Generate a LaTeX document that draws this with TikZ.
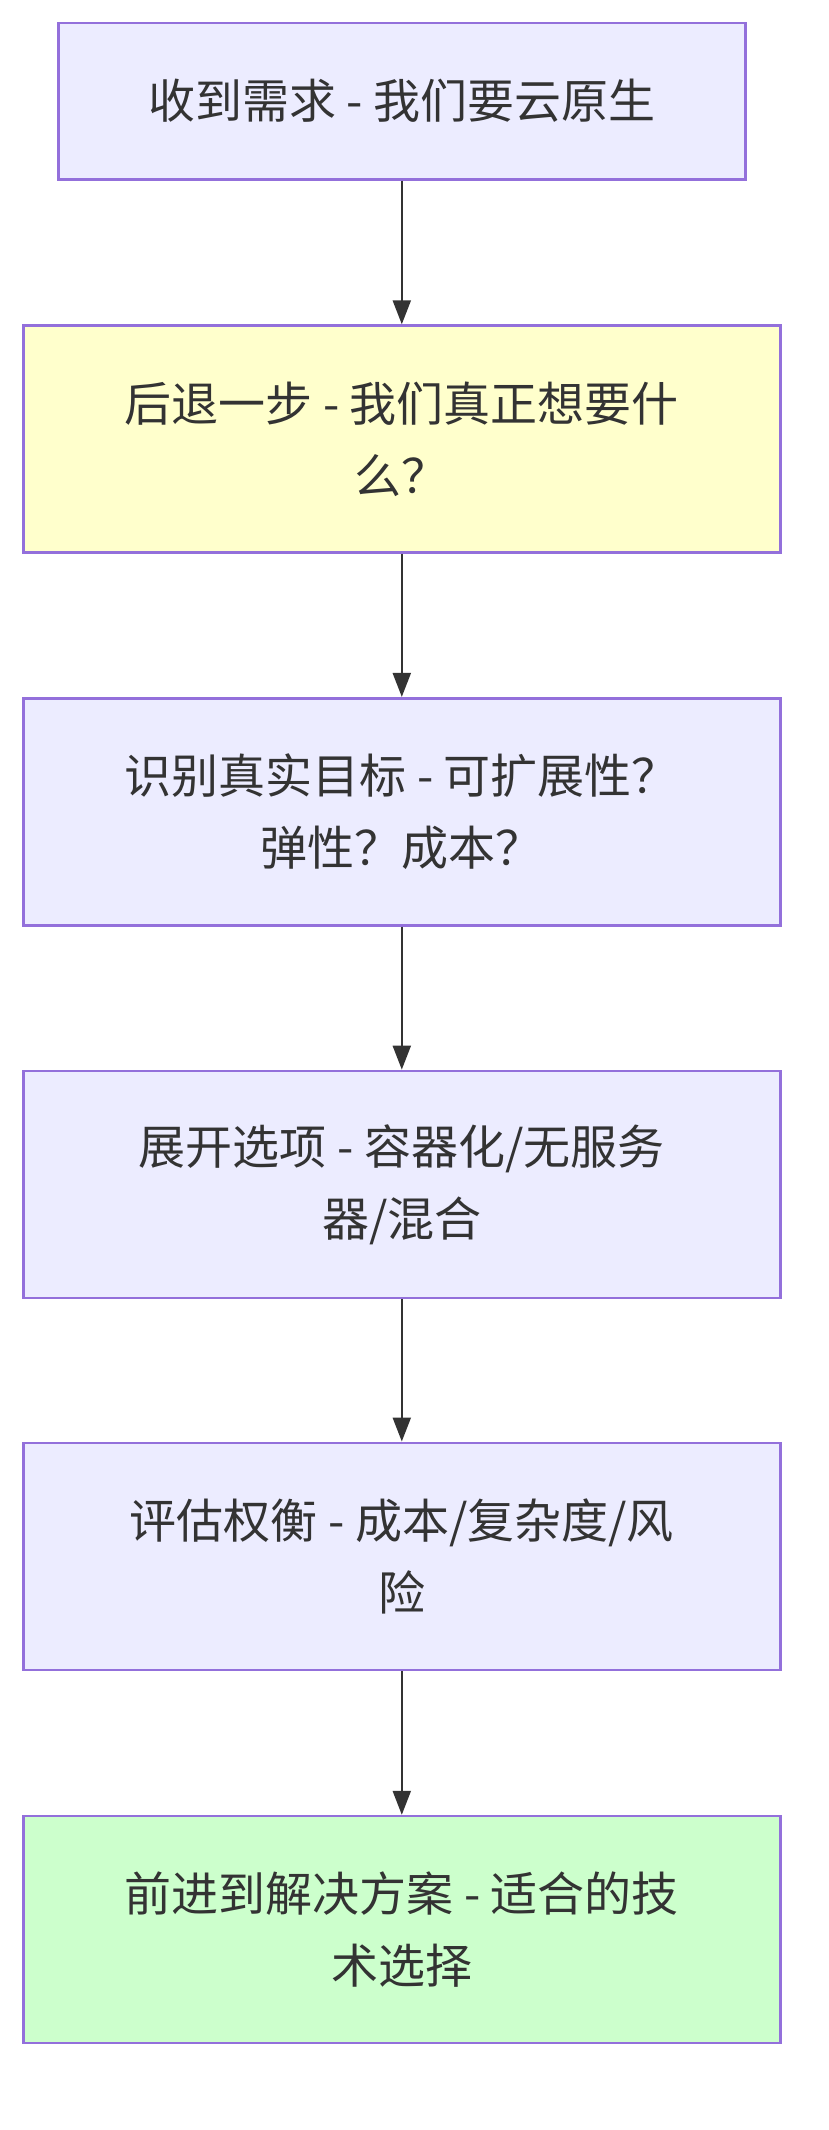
\documentclass[tikz,border=0pt]{standalone}
\usepackage{fontspec}
\newfontfamily\cjk{Noto Sans CJK SC}
\usetikzlibrary{arrows.meta}
\definecolor{nodefill}{HTML}{ECECFF}
\definecolor{nodeline}{HTML}{9370DB}
\definecolor{stepfill}{HTML}{FFFFCC}
\definecolor{donefill}{HTML}{CCFFCC}
\definecolor{ink}{HTML}{333333}
\tikzset{
  flowbox/.style={draw=nodeline, line width=2.6pt, fill=nodefill, rectangle,
    inner sep=0pt, align=center, text=ink,
    font=\cjk\fontsize{47}{72}\selectfont,
    minimum width=757pt, minimum height=227pt},
  flowarrow/.style={draw=ink, line width=2.2pt,
    -{Triangle[length=24pt,width=18pt]}}
}
\begin{document}
\begin{tikzpicture}[x=1pt,y=-1pt]
  \useasboundingbox (0,0) rectangle (828,2130);
  \fill[white] (0,0) rectangle (828,2130);
  \node[flowbox, minimum width=687pt, minimum height=156pt] (n1) at (401.8,101.2)
    {收到需求 - 我们要云原生};
  \node[flowbox, fill=stepfill] (n2) at (401.8,439.1)
    {后退一步 - 我们真正想要什\\么？};
  \node[flowbox] (n3) at (401.8,811.7)
    {识别真实目标 - 可扩展性？\\弹性？成本？};
  \node[flowbox] (n4) at (401.8,1184.4)
    {展开选项 - 容器化/无服务\\器/混合};
  \node[flowbox] (n5) at (401.8,1556.3)
    {评估权衡 - 成本/复杂度/风\\险};
  \node[flowbox, fill=donefill] (n6) at (401.8,1929.6)
    {前进到解决方案 - 适合的技\\术选择};
  \draw[flowarrow] (n1) -- (n2);
  \draw[flowarrow] (n2) -- (n3);
  \draw[flowarrow] (n3) -- (n4);
  \draw[flowarrow] (n4) -- (n5);
  \draw[flowarrow] (n5) -- (n6);
\end{tikzpicture}
\end{document}
